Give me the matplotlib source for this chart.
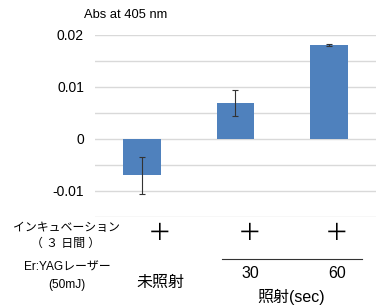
import matplotlib.pyplot as plt
import numpy as np

plt.rcParams['font.family'] = ['Liberation Sans', 'Noto Sans CJK JP', 'DejaVu Sans']

# データ
grupos = ['未照射', '30', '60']
valores = [-0.0071, 0.0069, 0.0180]
errores = [0.0036, 0.0025, 0.0002]
ticks_y = [-0.01, 0, 0.01, 0.02]
etiquetas_y = ['-0.01', '0', '0.01', '0.02']
grid_y = [-0.015, -0.01, -0.005, 0, 0.005, 0.01, 0.015, 0.02]

W, H = 376, 306
fig = plt.figure(figsize=(W / 100, H / 100), dpi=100)
ax = fig.add_axes([95 / W, 1 - 216.5 / H, 1 - 95 / W, (216.5 - 34.5) / H])

x = np.arange(len(grupos))
ax.bar(x, valores, width=0.4, color='#4f81bd', zorder=3)
ax.errorbar(x, valores, yerr=errores, fmt='none', ecolor='#333333',
            elinewidth=0.8, capsize=2, capthick=0.8, zorder=4)

for g in grid_y:
    ax.axhline(g, color='#d9d9d9', linewidth=1, zorder=1)

ax.set_xlim(-0.5, 2.5)
ax.set_ylim(-0.015, 0.02)
ax.set_yticks(ticks_y)
ax.set_yticklabels(etiquetas_y, fontsize=10)
ax.set_xticks([])
ax.tick_params(axis='y', length=0, pad=8)
for s in ax.spines.values():
    s.set_visible(False)
ax.patch.set_alpha(0)

def px(xp, yp):
    return xp / W, 1 - yp / H

fig.text(*px(84, 15), 'Abs at 405 nm', fontsize=9.3, va='center', ha='left')

# filas de condiciones
fig.text(*px(66, 228), 'インキュベーション', fontsize=8.6, ha='center', va='center')
fig.text(*px(66, 244), '（ ３ 日間 ）', fontsize=8.6, ha='center', va='center')
fig.text(*px(67, 268), 'Er:YAGレーザー', fontsize=8.6, ha='center', va='center')
fig.text(*px(67, 285), '(50mJ)', fontsize=8.6, ha='center', va='center')

for xp in [160, 250, 337]:
    fig.text(*px(xp, 234), '＋', fontsize=17, ha='center', va='center',
             family=['Noto Sans CJK JP'])

fig.text(*px(160, 282), grupos[0], fontsize=11.5, ha='center', va='center')
fig.text(*px(250, 273), grupos[1], fontsize=11.5, ha='center', va='center')
fig.text(*px(337, 273), grupos[2], fontsize=11.5, ha='center', va='center')
fig.text(*px(291, 297), '照射(sec)', fontsize=11.5, ha='center', va='center')

fig.add_artist(plt.Line2D([222 / W, 362 / W], [1 - 259 / H, 1 - 259 / H],
                          color='#333333', linewidth=0.8))

fig.savefig('out.png', dpi=100)
